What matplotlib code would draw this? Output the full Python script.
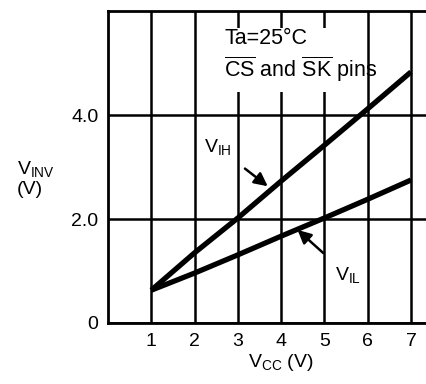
import matplotlib.pyplot as plt
from matplotlib.patches import Rectangle

plt.rcParams['font.family'] = ['Liberation Sans', 'DejaVu Sans']
plt.rcParams['mathtext.fontset'] = 'custom'
plt.rcParams['mathtext.rm'] = 'Liberation Sans'
plt.rcParams['mathtext.it'] = 'Liberation Sans'

# data
vcc = [1, 2, 3, 4, 5, 6, 7]
v_ih = [0.63, 1.35, 2.02, 2.73, 3.42, 4.12, 4.83]
v_il = [0.63, 0.96, 1.31, 1.67, 2.02, 2.38, 2.75]
x_ticks = [1, 2, 3, 4, 5, 6, 7]
y_ticks = [0, 2, 4]
y_tick_labels = ['0', '2.0', '4.0']

fig = plt.figure(figsize=(4.27, 3.84), dpi=100)
ax = fig.add_axes([0.253, 0.159, 0.747, 0.812])

ax.plot(vcc, v_ih, color='black', lw=3.8, solid_capstyle='butt', zorder=3)
ax.plot(vcc, v_il, color='black', lw=3.8, solid_capstyle='butt', zorder=3)

ax.set_xlim(0, 7.37)
ax.set_ylim(0, 6)
ax.set_xticks(x_ticks)
ax.set_yticks(y_ticks)
ax.set_yticklabels(y_tick_labels)
ax.tick_params(length=0, labelsize=14, pad=7)
ax.grid(True, color='black', lw=1.8)
ax.set_axisbelow(True)

for s in ['left', 'bottom', 'top']:
    ax.spines[s].set_linewidth(2)
ax.spines['right'].set_visible(False)

# white patch that hides the grid behind the note (line at 6 stays)
ax.add_patch(Rectangle((2.46, 4.44), 3.24, 1.23, fc='white', ec='none', zorder=2))
ax.text(2.68, 5.13, 'Ta=25°C\n' + r'$\overline{\mathrm{CS}}$ and $\overline{\mathrm{SK}}$ pins',
        fontsize=15.5, va='center', ha='left', linespacing=1.25, zorder=4)

# curve labels with arrows
ax.annotate(r'$\mathrm{V_{IH}}$', xy=(3.69, 2.63), xytext=(2.53, 3.38),
            fontsize=14, ha='center', va='center', zorder=5,
            arrowprops=dict(arrowstyle='-|>', color='black', lw=1.8,
                            mutation_scale=20, shrinkA=10, shrinkB=0))
ax.annotate(r'$\mathrm{V_{IL}}$', xy=(4.38, 1.79), xytext=(5.54, 0.92),
            fontsize=14, ha='center', va='center', zorder=5,
            arrowprops=dict(arrowstyle='-|>', color='black', lw=1.8,
                            mutation_scale=20, shrinkA=10, shrinkB=0))

fig.text(0.04, 0.535, r'$\mathrm{V_{INV}}$' + '\n(V)', fontsize=14,
         ha='left', va='center', linespacing=1.1)
fig.text(0.658, 0.055, r'$\mathrm{V_{CC}}$ (V)', fontsize=14,
         ha='center', va='center')

plt.savefig('out.png', dpi=100)
